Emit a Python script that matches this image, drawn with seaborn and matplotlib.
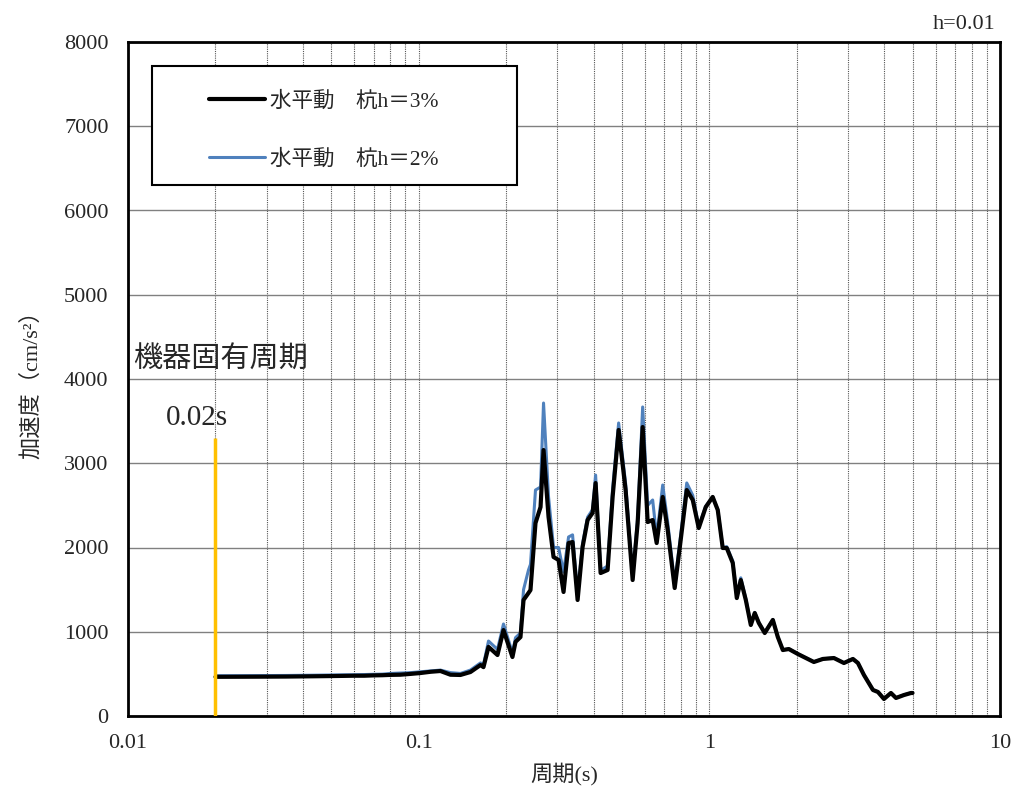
import numpy as np
import pandas as pd
import matplotlib
matplotlib.use("Agg")
import matplotlib.pyplot as plt
from matplotlib.patches import Rectangle
from matplotlib.ticker import FixedLocator, NullFormatter
import seaborn as sns

# Response spectrum (h=0.01) for two pile damping cases
period = [0.020, 0.025, 0.030, 0.035, 0.040, 0.045, 0.050, 0.055, 0.060, 0.065,
          0.070, 0.075, 0.080, 0.0865, 0.094, 0.1014, 0.110, 0.1188, 0.1286, 0.1392,
          0.1507, 0.1632, 0.1671, 0.1739, 0.1867, 0.1958, 0.2102, 0.2154, 0.2240, 0.2295,
          0.2387, 0.2425, 0.2523, 0.2626, 0.2689, 0.2798, 0.2911, 0.3029, 0.3151, 0.3279,
          0.3384, 0.3522, 0.3664, 0.3812, 0.3966, 0.4062, 0.4226, 0.4467, 0.4648, 0.4875,
          0.5152, 0.5447, 0.5667, 0.5897, 0.6135, 0.6383, 0.6589, 0.6912, 0.7190, 0.7600,
          0.7970, 0.8362, 0.8768, 0.9195, 0.9719, 1.027, 1.069, 1.112, 1.148, 1.204,
          1.243, 1.283, 1.335, 1.389, 1.433, 1.480, 1.551, 1.654, 1.720, 1.790,
          1.877, 2.016, 2.115, 2.289, 2.458, 2.683, 2.904, 3.119, 3.245, 3.403,
          3.655, 3.803, 3.988, 4.215, 4.387, 4.674, 4.941, 5.000]

accel_h3 = [465, 466, 467, 468, 470, 472, 474, 476, 478, 478,
            482, 484, 488, 490, 500, 510, 525, 534, 490, 487,
            522, 605, 580, 820, 724, 1020, 700, 880, 937, 1377,
            1460, 1495, 2290, 2480, 3157, 2362, 1887, 1852, 1472, 2053,
            2065, 1377, 2006, 2326, 2410, 2765, 1697, 1733, 2600, 3395,
            2682, 1614, 2290, 3430, 2302, 2326, 2053, 2600, 2208, 1519,
            2089, 2682, 2564, 2231, 2480, 2600, 2445, 1994, 1994, 1816,
            1400, 1614, 1377, 1080, 1222, 1104, 985, 1140, 938, 783,
            795, 736, 700, 641, 677, 688, 629, 677, 629, 487,
            309, 285, 202, 273, 214, 249, 273, 273]

accel_h2 = [478, 479, 480, 481, 483, 485, 487, 489, 490, 492,
            495, 497, 505, 510, 515, 525, 535, 545, 515, 505,
            545, 630, 610, 890, 790, 1092, 748, 930, 985, 1500,
            1733, 1800, 2682, 2718, 3715, 2600, 2000, 2000, 1709, 2125,
            2150, 1460, 2050, 2360, 2450, 2860, 1730, 1780, 2700, 3478,
            2760, 1660, 2350, 3668, 2500, 2564, 2120, 2742, 2300, 1570,
            2150, 2766, 2620, 2250, 2490, 2600, 2450, 2000, 2010, 1840,
            1420, 1640, 1390, 1090, 1230, 1110, 990, 1145, 940, 785,
            797, 738, 702, 643, 679, 690, 631, 679, 631, 489,
            311, 287, 204, 275, 216, 251, 275, 275]

label_h3 = "水平動\u3000杭h＝3%"
label_h2 = "水平動\u3000杭h＝2%"

device_period = 0.02
device_line_top = 3300

y_ticks = [0, 1000, 2000, 3000, 4000, 5000, 6000, 7000, 8000]
x_ticks = [0.01, 0.1, 1, 10]
x_tick_labels = ["0.01", "0.1", "1", "10"]

sns.set_style("white")
FONT = ["Liberation Serif", "Noto Sans CJK JP"]
plt.rcParams["font.family"] = FONT

df = pd.DataFrame({"period": period, "h3": accel_h3, "h2": accel_h2})

fig = plt.figure(figsize=(10.23, 7.96), dpi=100)
ax = fig.add_axes([128 / 1023, 80 / 796, 872 / 1023, 674 / 796])

sns.lineplot(data=df, x="period", y="h2", ax=ax, color="#4F81BD",
             linewidth=2.2, label=label_h2, zorder=3)
sns.lineplot(data=df, x="period", y="h3", ax=ax, color="black",
             linewidth=3.0, label=label_h3, zorder=4)

# Natural period of the equipment
ax.plot([device_period, device_period], [0, device_line_top],
        color="#FFC000", linewidth=2.5, zorder=5, solid_capstyle="butt")

ax.set_xscale("log")
ax.set_xlim(0.01, 10)
ax.set_ylim(0, 8000)

ax.xaxis.set_major_locator(FixedLocator(x_ticks))
ax.set_xticklabels(x_tick_labels)
minor = [m * 10.0 ** e for e in (-2, -1, 0) for m in range(2, 10)]
ax.xaxis.set_minor_locator(FixedLocator(minor))
ax.xaxis.set_minor_formatter(NullFormatter())
ax.set_yticks(y_ticks)

ax.grid(True, which="both", axis="x", color="#555555", linestyle=(0, (1, 1)),
        linewidth=0.8)
ax.grid(True, which="major", axis="y", color="#808080", linestyle="-",
        linewidth=1.0)
ax.set_axisbelow(True)

ax.tick_params(axis="both", which="both", length=0, labelsize=16)
ax.tick_params(axis="x", pad=13)
ax.tick_params(axis="y", pad=14)

for s in ax.spines.values():
    s.set_visible(True)
    s.set_color("black")
    s.set_linewidth(2.0)

ax.set_xlabel("周期(s)", fontsize=16, labelpad=7)
ax.set_ylabel("加速度（cm/s²）", fontsize=16, labelpad=16)

ax.text(0.995, 1.012, "h=0.01", transform=ax.transAxes, ha="right", va="bottom",
        fontsize=16)

ax.text(0.0104, 4225, "機器固有周期", fontsize=21, ha="left", va="center")
ax.text(0.0135, 3540, "0.02s", fontsize=21, ha="left", va="center")

# Legend box
ax.add_patch(Rectangle((0.0276, 0.7878), 0.419, 0.1766, transform=ax.transAxes,
                       facecolor="white", edgecolor="black", linewidth=1.5,
                       zorder=6))
h, l = ax.get_legend_handles_labels()
order = [l.index(label_h3), l.index(label_h2)]
leg = ax.legend([h[i] for i in order], [l[i] for i in order],
                loc="upper left", bbox_to_anchor=(0.0805, 0.9426),
                frameon=False, fontsize=15.5, handlelength=2.6,
                handletextpad=0.25, labelspacing=1.75, borderpad=0)
leg.set_zorder(7)

fig.savefig("out.png", dpi=100)
